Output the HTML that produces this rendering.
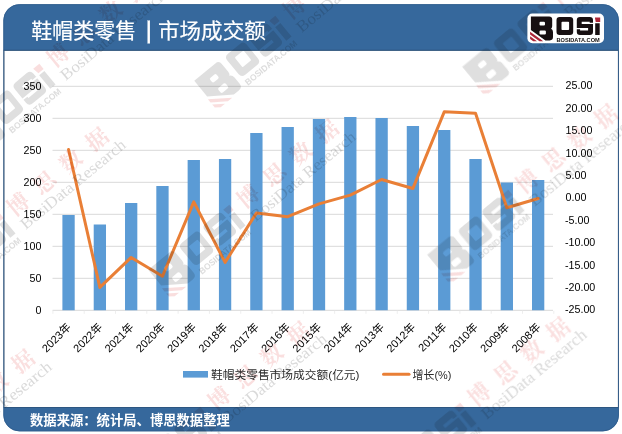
<!DOCTYPE html>
<html lang="zh-CN"><head><meta charset="utf-8"><title>鞋帽类零售 | 市场成交额</title>
<style>
html,body{margin:0;padding:0;background:#fff;}
body{width:622px;height:434px;overflow:hidden;font-family:"Liberation Sans",sans-serif;}
svg{display:block;}
.ax{font-family:"Liberation Sans","Noto Sans CJK SC",sans-serif;font-size:10.7px;fill:#000;}
.wmt{font-family:"Liberation Serif",serif;font-size:16px;fill:#9a9a9a;}
.wmc{font-family:"Liberation Serif","Noto Serif CJK SC",serif;font-weight:bold;font-size:22px;}
.dom{font-family:"Liberation Sans",sans-serif;font-weight:bold;font-size:5.9px;}
.lg{font-family:"Liberation Sans","Noto Sans CJK SC",sans-serif;font-size:11.7px;}
.ttl{font-family:"Liberation Sans","Noto Sans CJK SC",sans-serif;font-size:21px;}
.src{font-family:"Liberation Sans","Noto Sans CJK SC",sans-serif;font-size:13.3px;font-weight:bold;}
</style></head><body>
<svg width="622" height="434" viewBox="0 0 622 434" style="will-change:transform">
<defs>
<g id="bosi"><path d="M3.4 3H21.6Q24.7 3 24.7 6V12.6Q24.7 14.4 23.6 15.2Q25.5 16.2 25.5 18.4V23.6Q25.5 26.9 22.2 26.9H17.9L3.4 16.5ZM13.1 8.3H16.4Q17.5 8.3 17.5 9.4V11Q17.5 12.1 16.4 12.1H13.1Q12 12.1 12 11V9.4Q12 8.3 13.1 8.3ZM13.1 16.9H17.3Q18.4 16.9 18.4 18V20Q18.4 21.1 17.3 21.1H13.1Q12 21.1 12 20V18Q12 16.9 13.1 16.9ZM32.2 3.4H42.5Q45.7 3.4 45.7 6.6V18.3Q45.7 21.5 42.5 21.5H32.2Q29 21.5 29 18.3V6.6Q29 3.4 32.2 3.4ZM34.8 8.2H40.8Q41.6 8.2 41.6 9V15.8Q41.6 16.6 40.8 16.6H34.8Q34 16.6 34 15.8V9Q34 8.2 34.8 8.2ZM52.5 3.4H62.3Q65.5 3.4 65.5 6.6V18.3Q65.5 21.5 62.3 21.5H52.5Q49.3 21.5 49.3 18.3V6.6Q49.3 3.4 52.5 3.4ZM54.2 8.2H62.2V9.3H65.5V10.5H54.2ZM60.6 16.9H52.6V15.8H49.3V14.6H60.6ZM67.7 9.8H72.2V21.5H67.7Z" fill-rule="evenodd"/></g>
<g id="bosired"><path d="M67.4 3.9H72.7V8.4H68.2ZM2.6 18.3L15.8 27.8H12L2.6 21ZM2.6 22.8L9.5 27.8H5.8L2.6 25.5Z"/></g>
<g id="wm">
<g transform="translate(-129,-11) scale(1.5)"><use href="#bosi" fill="#8c8c8c" fill-opacity="0.28"/><use href="#bosired" fill="#e04848" fill-opacity="0.18"/><text class="dom" x="29" y="28.3" textLength="43.2" lengthAdjust="spacingAndGlyphs" fill="#999999" fill-opacity="0.34">BOSIDATA.COM</text></g>
<text class="wmc" x="-11 23 57 91" y="8.3" fill="#e04040" fill-opacity="0.17">博思数据</text>
<text class="wmt" x="-10.5" y="25" textLength="131" lengthAdjust="spacingAndGlyphs" fill="#888888" fill-opacity="0.38">BosiData Research</text>
</g>
</defs>
<rect x="0" y="0" width="622" height="434" fill="#ffffff"/>
<clipPath id="fr"><rect x="3.4" y="4.2" width="615.5" height="427.1" rx="16" ry="16"/></clipPath>
<g clip-path="url(#fr)">
<rect x="0" y="0" width="622" height="50.7" fill="#36689c"/>
<rect x="0" y="49.8" width="622" height="1" fill="#27486b" fill-opacity="0.8"/>
<rect x="0" y="407.0" width="622" height="40" fill="#36689c"/>
<rect x="0" y="407" width="622" height="0.9" fill="#27486b" fill-opacity="0.6"/>
</g>
<path d="M3.9 50.7V407M618.4 50.7V407" stroke="#44596f" stroke-width="1" fill="none"/>
<rect x="3.8" y="4.6" width="614.7" height="426.3" rx="15.6" ry="15.6" fill="none" stroke="#2f5c8c" stroke-width="0.8"/>
<path d="M52.5 310.3H553M52.5 278.3H553M52.5 246.3H553M52.5 214.3H553M52.5 182.3H553M52.5 150.3H553M52.5 118.3H553M52.5 86.3H553" stroke="#d9d9d9" stroke-width="1" fill="none"/>
<path d="M52.9 310.8v3M84.21 310.8v3M115.51 310.8v3M146.82 310.8v3M178.12 310.8v3M209.43 310.8v3M240.74 310.8v3M272.04 310.8v3M303.35 310.8v3M334.66 310.8v3M365.96 310.8v3M397.27 310.8v3M428.57 310.8v3M459.88 310.8v3M491.19 310.8v3M522.49 310.8v3M553.8 310.8v3" stroke="#eeeeee" stroke-width="1" fill="none"/>
<path d="M62.4 310.3H74.7V215.07H62.4ZM93.71 310.3H106.01V224.41H93.71ZM125.02 310.3H137.32V202.97H125.02ZM156.32 310.3H168.62V186.01H156.32ZM187.63 310.3H199.93V160.09H187.63ZM218.93 310.3H231.23V159H218.93ZM250.24 310.3H262.54V133.02H250.24ZM281.55 310.3H293.85V127H281.55ZM312.85 310.3H325.15V118.94H312.85ZM344.16 310.3H356.46V117.08H344.16ZM375.47 310.3H387.77V117.98H375.47ZM406.77 310.3H419.07V126.11H406.77ZM438.08 310.3H450.38V130.01H438.08ZM469.38 310.3H481.68V159H469.38ZM500.69 310.3H512.99V182.56H500.69ZM532 310.3H544.3V180.06H532Z" fill="#5b9bd5"/>
<text class="ax" x="41.4" y="314.1" text-anchor="end">0</text>
<text class="ax" x="41.4" y="282.1" text-anchor="end">50</text>
<text class="ax" x="41.4" y="250.1" text-anchor="end">100</text>
<text class="ax" x="41.4" y="218.1" text-anchor="end">150</text>
<text class="ax" x="41.4" y="186.1" text-anchor="end">200</text>
<text class="ax" x="41.4" y="154.1" text-anchor="end">250</text>
<text class="ax" x="41.4" y="122.1" text-anchor="end">300</text>
<text class="ax" x="41.4" y="90.1" text-anchor="end">350</text>
<text class="ax" x="565.0" y="313.3">-25.00</text>
<text class="ax" x="565.0" y="290.9">-20.00</text>
<text class="ax" x="565.0" y="268.5">-15.00</text>
<text class="ax" x="565.0" y="246.1">-10.00</text>
<text class="ax" x="565.0" y="223.7">-5.00</text>
<text class="ax" x="565.6" y="201.3">0.00</text>
<text class="ax" x="565.6" y="178.9">5.00</text>
<text class="ax" x="565.6" y="156.5">10.00</text>
<text class="ax" x="565.6" y="134.1">15.00</text>
<text class="ax" x="565.6" y="111.7">20.00</text>
<text class="ax" x="565.6" y="89.3">25.00</text>
<path d="M68.55 149.47L99.86 287.45L131.17 257.44L162.47 276.25L193.78 201.88L225.08 262.36L256.39 213.08L287.7 216.67L319 203.9L350.31 195.16L381.62 179.48L412.92 188.44L444.23 111.84L475.53 113.18L506.84 207.71L538.15 198.52" stroke="#e97f36" stroke-width="3" fill="none" stroke-linejoin="round" stroke-linecap="round"/>
<g transform="translate(72.05,327.4) rotate(-45)" aria-label="2023年"><text class="ax" x="-0.6" y="0" text-anchor="end" style="font-size:11px">2023年</text></g>
<g transform="translate(103.36,327.4) rotate(-45)" aria-label="2022年"><text class="ax" x="-0.6" y="0" text-anchor="end" style="font-size:11px">2022年</text></g>
<g transform="translate(134.67,327.4) rotate(-45)" aria-label="2021年"><text class="ax" x="-0.6" y="0" text-anchor="end" style="font-size:11px">2021年</text></g>
<g transform="translate(165.97,327.4) rotate(-45)" aria-label="2020年"><text class="ax" x="-0.6" y="0" text-anchor="end" style="font-size:11px">2020年</text></g>
<g transform="translate(197.28,327.4) rotate(-45)" aria-label="2019年"><text class="ax" x="-0.6" y="0" text-anchor="end" style="font-size:11px">2019年</text></g>
<g transform="translate(228.58,327.4) rotate(-45)" aria-label="2018年"><text class="ax" x="-0.6" y="0" text-anchor="end" style="font-size:11px">2018年</text></g>
<g transform="translate(259.89,327.4) rotate(-45)" aria-label="2017年"><text class="ax" x="-0.6" y="0" text-anchor="end" style="font-size:11px">2017年</text></g>
<g transform="translate(291.2,327.4) rotate(-45)" aria-label="2016年"><text class="ax" x="-0.6" y="0" text-anchor="end" style="font-size:11px">2016年</text></g>
<g transform="translate(322.5,327.4) rotate(-45)" aria-label="2015年"><text class="ax" x="-0.6" y="0" text-anchor="end" style="font-size:11px">2015年</text></g>
<g transform="translate(353.81,327.4) rotate(-45)" aria-label="2014年"><text class="ax" x="-0.6" y="0" text-anchor="end" style="font-size:11px">2014年</text></g>
<g transform="translate(385.12,327.4) rotate(-45)" aria-label="2013年"><text class="ax" x="-0.6" y="0" text-anchor="end" style="font-size:11px">2013年</text></g>
<g transform="translate(416.42,327.4) rotate(-45)" aria-label="2012年"><text class="ax" x="-0.6" y="0" text-anchor="end" style="font-size:11px">2012年</text></g>
<g transform="translate(447.73,327.4) rotate(-45)" aria-label="2011年"><text class="ax" x="-0.6" y="0" text-anchor="end" style="font-size:11px">2011年</text></g>
<g transform="translate(479.03,327.4) rotate(-45)" aria-label="2010年"><text class="ax" x="-0.6" y="0" text-anchor="end" style="font-size:11px">2010年</text></g>
<g transform="translate(510.34,327.4) rotate(-45)" aria-label="2009年"><text class="ax" x="-0.6" y="0" text-anchor="end" style="font-size:11px">2009年</text></g>
<g transform="translate(541.65,327.4) rotate(-45)" aria-label="2008年"><text class="ax" x="-0.6" y="0" text-anchor="end" style="font-size:11px">2008年</text></g>
<rect x="183" y="371" width="25" height="6.6" fill="#5b9bd5"/>
<g aria-label="鞋帽类零售市场成交额(亿元)" fill="#2b2b2b"><text class="lg" x="211" y="379.2" textLength="148.5" lengthAdjust="spacingAndGlyphs">鞋帽类零售市场成交额(亿元)</text></g>
<path d="M383.5 374.2H409" stroke="#e97f36" stroke-width="3" stroke-linecap="round"/>
<g aria-label="增长(%)" fill="#2b2b2b"><text class="lg" x="412.6" y="379.2" textLength="38.8" lengthAdjust="spacingAndGlyphs">增长(%)</text></g>
<g aria-hidden="true" style="mix-blend-mode:multiply">
<use href="#wm" transform="translate(58,55) rotate(-39.5)"/>
<use href="#wm" transform="translate(294,7) rotate(-39.5)"/>
<use href="#wm" transform="translate(562,-7) rotate(-39.5)"/>
<use href="#wm" transform="translate(18,204) rotate(-39.5)"/>
<use href="#wm" transform="translate(248,196) rotate(-39.5)"/>
<use href="#wm" transform="translate(527,181) rotate(-39.5)"/>
<use href="#wm" transform="translate(-56,426) rotate(-39.5)"/>
<use href="#wm" transform="translate(219,398) rotate(-39.5)"/>
<use href="#wm" transform="translate(479,394) rotate(-39.5)"/>
</g>
<g role="heading" aria-label="鞋帽类零售 | 市场成交额" fill="#ffffff" stroke="#ffffff" stroke-width="0.2"><text class="ttl" x="31.2" y="38.4" textLength="105" lengthAdjust="spacingAndGlyphs">鞋帽类零售</text><rect x="147.6" y="20.6" width="2.3" height="22.8"/><text class="ttl" x="158" y="38.4" textLength="107.8" lengthAdjust="spacingAndGlyphs">市场成交额</text></g>
<g aria-label="BOSi BOSIDATA.COM" transform="translate(527.5,13.5)">
<rect x="-0.1" y="0.1" width="76.6" height="29.7" rx="5" ry="5" fill="#ffffff"/>
<use href="#bosi" fill="#170f11"/><use href="#bosired" fill="#ad2638"/>
<text class="dom" x="29" y="28.3" textLength="43.2" lengthAdjust="spacingAndGlyphs" fill="#14100f">BOSIDATA.COM</text>
</g>
<g aria-label="数据来源：统计局、博思数据整理" fill="#ffffff"><text class="src" x="30" y="425" textLength="199.8" lengthAdjust="spacingAndGlyphs">数据来源：统计局、博思数据整理</text></g>
</svg>
</body></html>
